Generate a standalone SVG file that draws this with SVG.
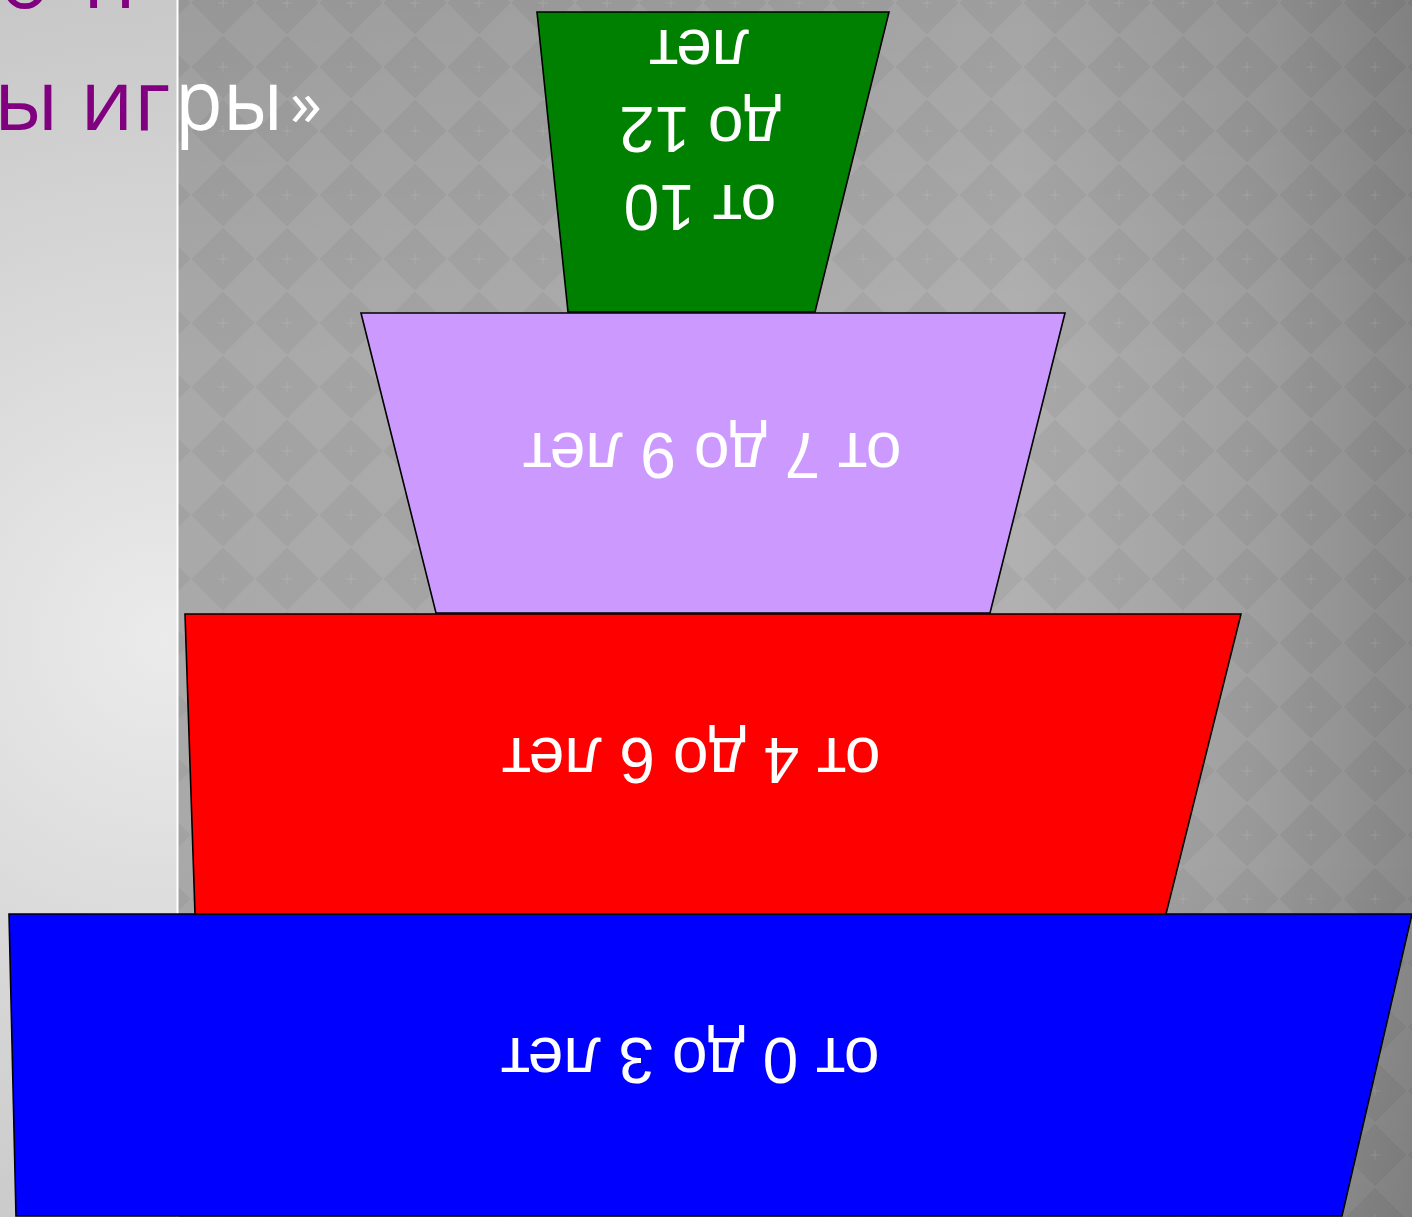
<svg xmlns="http://www.w3.org/2000/svg" width="1412" height="1217" viewBox="0 0 1412 1217">
  <defs>
    <linearGradient id="bgRight" gradientUnits="userSpaceOnUse" x1="178" y1="0" x2="1412" y2="0">
      <stop offset="0" stop-color="#a9a9a9"/>
      <stop offset="0.35" stop-color="#acacac"/>
      <stop offset="0.68" stop-color="#b1b1b1"/>
      <stop offset="0.87" stop-color="#a0a0a0"/>
      <stop offset="1" stop-color="#8a8a8a"/>
    </linearGradient>
    <linearGradient id="bgShade" gradientUnits="userSpaceOnUse" x1="0" y1="0" x2="0" y2="1217">
      <stop offset="0" stop-color="#000" stop-opacity="0.07"/>
      <stop offset="0.3" stop-color="#000" stop-opacity="0"/>
      <stop offset="0.7" stop-color="#000" stop-opacity="0"/>
      <stop offset="1" stop-color="#000" stop-opacity="0.08"/>
    </linearGradient>
    <radialGradient id="bgLeft" gradientUnits="userSpaceOnUse" cx="165" cy="640" r="720">
      <stop offset="0" stop-color="#ebebeb"/>
      <stop offset="1" stop-color="#c4c4c4"/>
    </radialGradient>
    <pattern id="diamonds" patternUnits="userSpaceOnUse" x="191" y="-29" width="64" height="64">
      <polygon points="32,0 64,32 32,64 0,32" fill="#000" fill-opacity="0.045"/>
      <path d="M32,0 L64,32 L32,64 L0,32 Z" fill="none" stroke="#fff" stroke-opacity="0.04" stroke-width="1"/>
      <path d="M27,32 H37 M32,27 V37" stroke="#fff" stroke-opacity="0.1" stroke-width="1"/>
    </pattern>
    <style>
      .tier { stroke: #000; stroke-width: 1.6; stroke-linejoin: miter; }
      .lbl { font-family: "Liberation Sans", Arial, sans-serif; font-size: 64px; fill: #fff; text-anchor: middle; }
      .title { font-family: "Open Sans", "Noto Sans", sans-serif; font-size: 84px; }
    </style>
  </defs>

  <!-- background -->
  <rect x="0" y="0" width="1412" height="1217" fill="url(#bgRight)"/>
  <rect x="0" y="0" width="1412" height="1217" fill="url(#bgShade)"/>
  <rect x="178" y="0" width="1234" height="1217" fill="url(#diamonds)"/>
  <rect x="0" y="0" width="177" height="1217" fill="url(#bgLeft)"/>
  <rect x="176.5" y="0" width="2" height="1217" fill="#ffffff"/>

  <!-- title fragments -->
  <g id="title">
    <text class="title" x="50" y="8" fill="#800080" text-anchor="end">о</text>
    <text class="title" x="83" y="8" fill="#800080">н</text>
    <text class="title" x="170" y="130" fill="#800080" text-anchor="end">ы иг</text>
    <text class="title" x="175" y="130" fill="#ffffff" textLength="108" lengthAdjust="spacingAndGlyphs">ры</text>
    <text x="290" y="126" fill="#ffffff" font-family="Open Sans, Noto Sans, sans-serif" font-size="64">»</text>
  </g>

  <g id="tier-0-3">
    <polygon class="tier" fill="#0000ff" points="9,914 1412,914 1342,1216 16,1216"/>
    <text class="lbl" transform="translate(690,1038) rotate(180)">от 0 до 3 лет</text>
  </g>
  <g id="tier-4-6">
    <polygon class="tier" fill="#ff0000" points="185,614 1241,614 1166,914 195,914"/>
    <text class="lbl" transform="translate(691,738) rotate(180)">от 4 до 6 лет</text>
  </g>
  <g id="tier-7-9">
    <polygon class="tier" fill="#cc99ff" points="361,313 1065,313 990,613 436,613"/>
    <text class="lbl" transform="translate(712,433) rotate(180)">от 7 до 9 лет</text>
  </g>
  <g id="tier-10-12">
    <polygon class="tier" fill="#008000" points="537,12 889,12 815,312 568,312"/>
    <text class="lbl" transform="translate(700,185) rotate(180)">от 10</text>
    <text class="lbl" transform="translate(700,107) rotate(180)">до 12</text>
    <text class="lbl" transform="translate(699,30) rotate(180)">лет</text>
  </g>
</svg>
